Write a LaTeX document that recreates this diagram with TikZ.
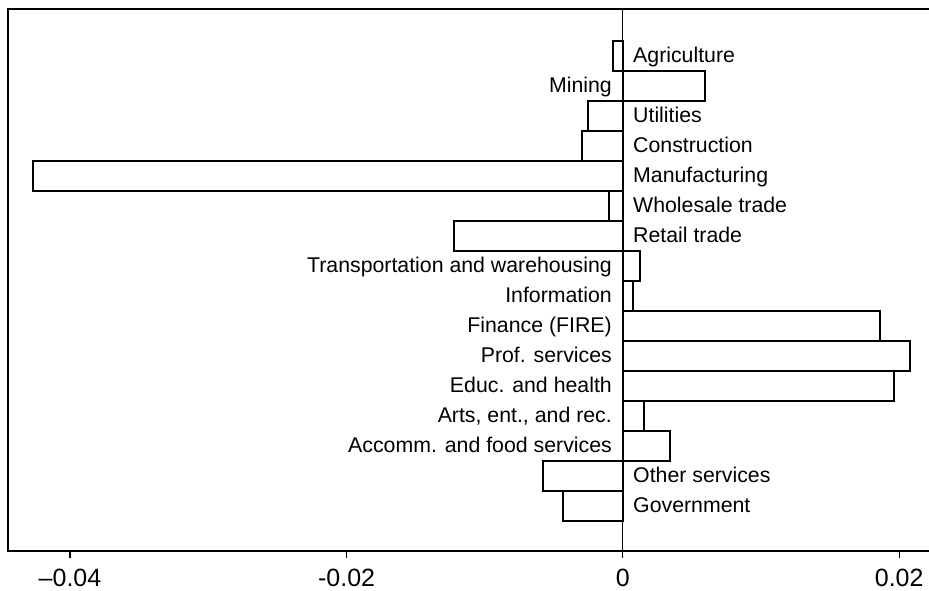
\documentclass[tikz,border=0pt]{standalone}
\usepackage{fontspec}
\setmainfont{Liberation Sans}
\begin{document}
\begin{tikzpicture}[x=1pt,y=-1pt,
  bar/.style={draw=black,line width=1.9pt,fill=white},
  lab/.style={inner sep=0pt,font=\fontsize{21.3}{22}\selectfont},
  ticklab/.style={inner sep=0pt,anchor=base,font=\fontsize{25}{26}\selectfont},
  frameline/.style={line width=2pt},
  zeroline/.style={line width=1.4pt},
  tickmark/.style={line width=1.4pt}]
\useasboundingbox (0,0) rectangle (929,591);
% frame
\coordinate (tl) at (8.3,9.3);
\coordinate (tr) at (929,9.3);
\coordinate (bl) at (8.3,551.3);
\coordinate (br) at (929,551.3);
\coordinate (zt) at (622.7,9.3);
\coordinate (zb) at (622.7,551.3);
% bars and labels
\foreach \i/\e/\t/\s in {
  0/612.7/{Agriculture}/R,
  1/704.7/{Mining}/L,
  2/587.7/{Utilities}/R,
  3/582/{Construction}/R,
  4/32.7/{Manufacturing}/R,
  5/609/{Wholesale trade}/R,
  6/454/{Retail trade}/R,
  7/640/{Transportation and warehousing}/L,
  8/632.7/{Information}/L,
  9/880.3/{Finance (FIRE)}/L,
  10/910/{Prof. services}/L,
  11/893.7/{Educ. and health}/L,
  12/644.3/{Arts, ent., and rec.}/L,
  13/670.3/{Accomm. and food services}/L,
  14/542.7/{Other services}/R,
  15/562.7/{Government}/R}
{
  \draw[bar] (622.7,{40.7+30*\i}) rectangle (\e,{70.7+30*\i});
  \if\s R
    \node[lab,anchor=base west] (lab\i) at (633,{62.2+30*\i}) {\t};
  \else
    \node[lab,anchor=base east] (lab\i) at (612,{62.2+30*\i}) {\t};
  \fi
}
\draw[zeroline] (zt) -- (zb);
\draw[frameline] (tr) -- (tl) -- (bl) -- (br);
% ticks
\foreach \x/\n/\l in {70/m4/{–0.04},346.6/m2/{-0.02},622.7/z/{0},899.2/p2/{0.02}}
{
  \coordinate (tk\n) at (\x,551.3);
  \coordinate (tke\n) at (\x,557.5);
  \draw[tickmark] (tk\n) -- (tke\n);
  \node[ticklab] (tl\n) at (\x,586.5) {\l};
}
\end{tikzpicture}
\end{document}
